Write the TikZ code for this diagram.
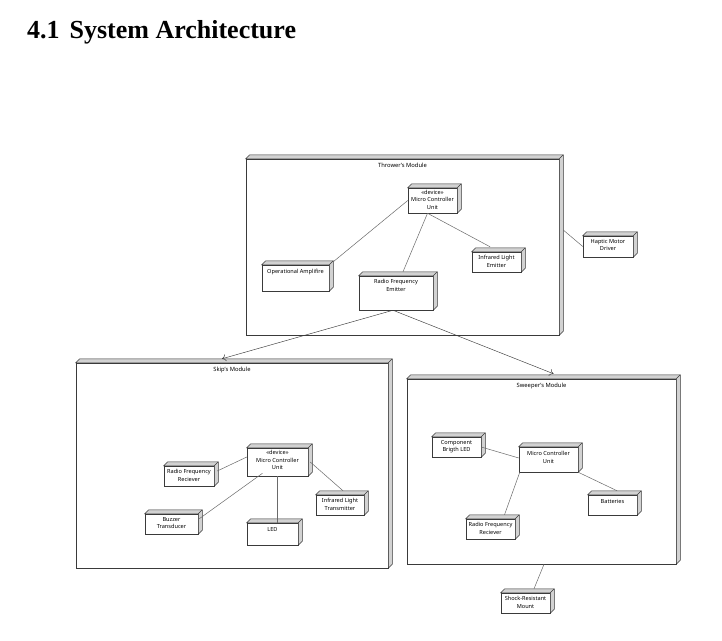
\documentclass[tikz,border=0pt]{standalone}
\usepackage{fontspec}
\setmainfont{Noto Sans}
\newfontfamily\headfont{Liberation Serif}
\definecolor{boxline}{HTML}{3A3A3A}
\definecolor{facegray}{HTML}{D2D2D2}
\definecolor{wiregray}{HTML}{6A6A6A}
\tikzset{
	devbox/.style={draw=boxline, fill=white, inner sep=0pt, line width=0.5pt},
	devtext/.style={below, inner sep=3.2pt, align=center,
		font=\fontsize{5.6}{7.6}\selectfont},
	modtext/.style={below, inner sep=4.5pt, font=\fontsize{5.8}{7}\selectfont},
	wire/.style={draw=wiregray, line width=0.5pt},
	flow/.style={draw=boxline, line width=0.45pt, -{To[length=4pt,width=7pt]}}
}
% 3D faces of a deployment node
\newcommand{\devface}[1]{
	\filldraw[fill=facegray, draw=boxline, line width=0.5pt]
	(#1.north west) -- ([shift={(4,-4)}]#1.north west)
	-- ([shift={(4,-4)}]#1.north east) -- ([shift={(4,-4)}]#1.south east)
	-- (#1.south east) -- (#1.north east) -- cycle;
	\draw[boxline, line width=0.5pt] (#1.north east) -- ([shift={(4,-4)}]#1.north east);
}
\usetikzlibrary{arrows.meta}
\begin{document}
\begin{tikzpicture}[x=1pt, y=-1pt]
	\useasboundingbox (0,0) rectangle (722,640);
	\node[anchor=base west, inner sep=0pt,
		font=\headfont\bfseries\fontsize{26}{29}\selectfont] (title) at (27,38)
		{4.1\hspace{0.38em}System Architecture};
	
	% Thrower's module
	\node[devbox, minimum width=313, minimum height=176,
		label={[modtext]north:Thrower's Module}] (tmod) at (402.5,247) {};
	\node[devbox, minimum width=49, minimum height=25,
		label={[devtext, inner sep=1.8pt]north:«device»\\Micro Controller\\Unit}] (tmcu) at (432.5,200.5) {};
	\node[devbox, minimum width=67, minimum height=26,
		label={[devtext, inner sep=4.5pt]north:Operational Amplifire}] (opamp) at (295.5,278) {};
	\node[devbox, minimum width=74, minimum height=34,
		label={[devtext]north:Radio Frequency\\Emitter}] (rfemit) at (396,293) {};
	\node[devbox, minimum width=49, minimum height=20,
		label={[devtext]north:Infrared Light\\Emitter}] (iremit) at (496.5,262) {};
	\node[devbox, minimum width=50, minimum height=21,
		label={[devtext]north:Haptic Motor\\Driver}] (haptic) at (608,246.5) {};
	
	% Skip's module
	\node[devbox, minimum width=312, minimum height=205,
		label={[modtext]north:Skip's Module}] (smod) at (232,465.5) {};
	\node[devbox, minimum width=61, minimum height=28,
		label={[devtext, inner sep=2.5pt]north:«device»\\Micro Controller\\Unit}] (smcu) at (277.5,462) {};
	\node[devbox, minimum width=50, minimum height=20,
		label={[devtext]north:Radio Frequency\\Reciever}] (srfrec) at (189,476) {};
	\node[devbox, minimum width=53, minimum height=20,
		label={[devtext]north:Buzzer\\Transducer}] (buzzer) at (171.5,524) {};
	\node[devbox, minimum width=51, minimum height=22,
		label={[devtext, inner sep=4.5pt]north:LED}] (led) at (272.5,534) {};
	\node[devbox, minimum width=48, minimum height=20,
		label={[devtext]north:Infrared Light\\Transmitter}] (irtrans) at (340,505) {};
	
	% Sweeper's module
	\node[devbox, minimum width=269, minimum height=185,
		label={[modtext]north:Sweeper's Module}] (wmod) at (541.5,471.5) {};
	\node[devbox, minimum width=49, minimum height=20,
		label={[devtext]north:Component\\Brigth LED}] (cbled) at (456.5,447) {};
	\node[devbox, minimum width=59, minimum height=25,
		label={[devtext, inner sep=4.5pt]north:Micro Controller\\Unit}] (wmcu) at (548.5,459.5) {};
	\node[devbox, minimum width=49, minimum height=20,
		label={[devtext, inner sep=4pt]north:Batteries}] (batt) at (612.5,505) {};
	\node[devbox, minimum width=49, minimum height=20,
		label={[devtext]north:Radio Frequency\\Reciever}] (wrfrec) at (490.5,529) {};
	\node[devbox, minimum width=49, minimum height=20,
		label={[devtext]north:Shock-Resistant\\Mount}] (shock) at (525.5,603) {};
	
	\foreach \n in {tmod,tmcu,opamp,rfemit,iremit,haptic,
		smod,smcu,srfrec,buzzer,led,irtrans,
		wmod,cbled,wmcu,batt,wrfrec,shock}
		{\devface{\n}}
	
	% links
	\draw[wire] (tmcu.west) -- ([shift={(4,-3)}]opamp.north east);
	\draw[wire] ([shift={(-5,0)}]tmcu.south) -- ([shift={(7,-4)}]rfemit.north);
	\draw[wire] ([shift={(-5,0)}]tmcu.south) -- ([shift={(-6.5,-5)}]iremit.north);
	\draw[wire] ([shift={(4,-17)}]tmod.east) -- (haptic.west);
	
	\draw[wire] ([shift={(0,-5)}]smcu.west) -- ([shift={(3,-5)}]srfrec.east);
	\draw[wire] ([shift={(-15,-3)}]smcu.south) -- ([shift={(1,5)}]buzzer.north east);
	\draw[wire] (smcu.south) -- (smcu.south |- led.north);
	\draw[wire] ([shift={(2,0)}]smcu.east) -- ([shift={(3,-4)}]irtrans.north);
	
	\draw[wire] (cbled.east) -- ([shift={(0,-1.5)}]wmcu.west);
	\draw[wire] ([shift={(1,0)}]wmcu.south west) -- ([shift={(14,-4)}]wrfrec.north);
	\draw[wire] (wmcu.south east) -- ([shift={(4.5,-4)}]batt.north);
	\draw[wire] ([shift={(2.5,0)}]wmod.south) -- ([shift={(8.5,-4)}]shock.north);
	
	\draw[flow] ([shift={(-3,0)}]rfemit.south) -- ([shift={(-10,-4)}]smod.north);
	\draw[flow] ([shift={(-3,0)}]rfemit.south) -- ([shift={(12,-5)}]wmod.north);
\end{tikzpicture}
\end{document}
